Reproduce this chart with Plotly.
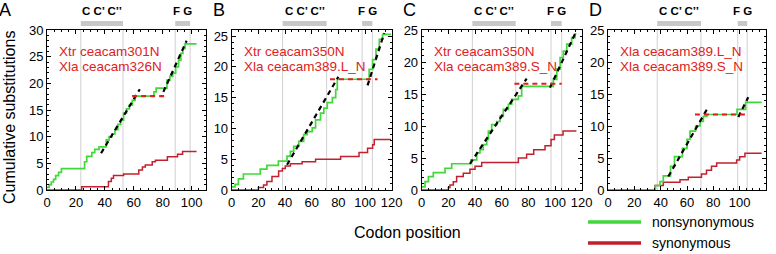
import plotly.graph_objects as go

# ---------------- data ----------------
panel_letters = ["A", "B", "C", "D"]
pair_line1 = ["Xtr ceacam301N", "Xtr ceacam350N", "Xtr ceacam350N", "Xla ceacam389.L_N"]
pair_line2 = ["Xla ceacam326N", "Xla ceacam389.L_N", "Xla ceacam389.S_N", "Xla ceacam389.S_N"]
x_max = [110, 120, 120, 120]
y_max = [30, 26, 25, 25]

# nonsynonymous (cumulative, step starts)
a_nonsyn_x = [0, 1.5, 3, 4.5, 6, 8, 10, 26, 27.5, 31, 33, 36, 41, 43, 45, 47, 49, 51, 53, 55, 57, 59, 61, 74, 75.5, 83, 85, 87, 89, 91, 92.6, 94, 95.5, 103.5]
a_nonsyn_y = [0.5, 1.0, 1.5, 2.0, 2.7, 3.3, 4.0, 5.3, 6.3, 7.0, 7.6, 8.1, 9.4, 10.0, 10.5, 11.3, 12.3, 13.1, 14.4, 15.2, 15.9, 16.8, 17.6, 18.4, 19.1, 20.6, 21.3, 21.9, 23.1, 24.3, 25.6, 26.5, 27.4, 27.4]
a_syn_x = [0, 24, 42.5, 44.5, 46, 53, 63.5, 66, 68, 72.8, 75, 83.3, 90.3, 93.8, 103.5]
a_syn_y = [0, 0.6, 1.6, 2.2, 2.7, 3.0, 3.75, 4.3, 4.7, 5.3, 5.6, 6.25, 6.7, 7.2, 7.2]

b_nonsyn_x = [0, 2.5, 5, 8.8, 21.4, 26.4, 35, 41.5, 44, 46.5, 50.3, 54, 56.6, 60.4, 62.9, 66.6, 69.1, 71.7, 75.5, 78, 79.2, 103.1, 105.7, 108.2, 110.7, 113.2, 119.5]
b_nonsyn_y = [0.5, 0.9, 1.8, 2.6, 3.4, 4.0, 4.7, 5.5, 6.3, 7.1, 7.9, 9.0, 9.5, 10.1, 11.4, 12.5, 13.3, 14.2, 15.0, 16.3, 18.0, 19.6, 21.2, 22.9, 24.5, 25.3, 25.3]
b_syn_x = [0, 20, 23.9, 26.4, 30.2, 35.2, 38, 40.2, 44, 52.8, 62.9, 81.7, 95.5, 101.9, 105.7, 106.9, 119.5]
b_syn_y = [0, 0.4, 0.8, 1.4, 2.2, 3.1, 3.5, 3.9, 4.25, 4.6, 5.0, 5.45, 6.1, 6.8, 7.35, 8.2, 8.2]

c_nonsyn_x = [0, 2.5, 5, 8.7, 17.5, 22.5, 37, 41.3, 43.7, 46.2, 48.8, 50, 52.5, 56.3, 58.7, 61.2, 65, 67.5, 72.5, 75, 98.7, 101.3, 103.8, 106.2, 108.8, 112.5, 115, 116]
c_nonsyn_y = [0.5, 1.3, 2.1, 2.7, 3.4, 4.1, 4.7, 5.8, 6.3, 7.1, 7.9, 9.2, 10.2, 10.7, 11.5, 12.6, 13.4, 14.15, 14.7, 16.2, 17.3, 18.9, 20.7, 21.7, 22.8, 23.8, 24.4, 24.4]
c_syn_x = [0, 20, 21.2, 23.7, 26.2, 31.2, 36.2, 40, 45, 72.5, 78.7, 84, 92.5, 97, 99.5, 106, 116]
c_syn_y = [0, 0.4, 0.8, 1.3, 2.1, 2.6, 3.25, 3.7, 4.3, 5.0, 5.6, 6.3, 6.9, 7.9, 8.6, 9.2, 9.2]

d_nonsyn_x = [0, 36, 39.5, 42, 47.5, 50.5, 56.5, 60, 62.3, 66.5, 69.9, 72.4, 75, 98, 104.5, 116.7]
d_nonsyn_y = [0, 0.7, 1.3, 2.2, 3.7, 5.2, 6.5, 7.9, 9.2, 10.0, 10.7, 11.5, 11.8, 12.6, 13.7, 13.7]
d_syn_x = [0, 35.7, 42, 54.7, 61, 71, 74.8, 78.6, 82.5, 97.7, 100, 104, 116.7]
d_syn_y = [0, 0.7, 1.2, 1.6, 2.0, 2.5, 3.1, 3.7, 4.2, 4.7, 5.2, 5.75, 5.75]

# fitted rate segments (x0, y0, x1, y1)
a_fit1 = [37.4, 6.9, 64.2, 18.9]
a_flat = [58.9, 17.6, 81.5, 17.6]
a_fit2 = [80.5, 18.4, 96.6, 28.0]
b_fit1 = [41.5, 4.1, 80.0, 18.4]
b_flat = [73.7, 18.0, 109.4, 18.0]
b_fit2 = [101.9, 17.0, 114.4, 25.5]
c_fit1 = [36.2, 4.1, 78.7, 17.4]
c_flat = [69.5, 16.6, 105.0, 16.6]
c_fit2 = [96.2, 16.0, 115.0, 24.4]
d_fit1 = [45.8, 2.1, 75.4, 12.7]
d_flat = [66.0, 11.8, 105.3, 11.8]
d_fit2 = [99.0, 11.4, 106.5, 14.5]

# strand boundaries (codon positions)
a_strands = [23.4, 52.6, 88.7, 99.0]
b_strands = [38.2, 71.2, 97.8, 105.5]
c_strands = [38.0, 70.5, 97.0, 105.0]
d_strands = [37.4, 70.6, 98.5, 105.7]

nonsyn_x = [a_nonsyn_x, b_nonsyn_x, c_nonsyn_x, d_nonsyn_x]
nonsyn_y = [a_nonsyn_y, b_nonsyn_y, c_nonsyn_y, d_nonsyn_y]
syn_x = [a_syn_x, b_syn_x, c_syn_x, d_syn_x]
syn_y = [a_syn_y, b_syn_y, c_syn_y, d_syn_y]
fit1 = [a_fit1, b_fit1, c_fit1, d_fit1]
flat = [a_flat, b_flat, c_flat, d_flat]
fit2 = [a_fit2, b_fit2, c_fit2, d_fit2]
strands = [a_strands, b_strands, c_strands, d_strands]

# ---------------- style ----------------
W, H = 776, 254
FONT = "Liberation Sans, Arial, Helvetica, sans-serif"
GREEN = "#41d83a"
RED = "#c2202e"
TXT_RED = "#dd2222"
x_px = [(47, 206), (231.7, 391.7), (421.7, 581.7), (608, 766)]
y_dom = [64 / H, 224 / H]

fig = go.Figure()
shapes = []
annotations = []

for i in range(4):
    sfx = "" if i == 0 else str(i + 1)
    xa, ya = "x" + sfx, "y" + sfx
    fig.add_trace(go.Scatter(x=syn_x[i], y=syn_y[i], mode="lines", line=dict(color=RED, width=1.5, shape="hv"),
                             xaxis=xa, yaxis=ya, showlegend=False))
    fig.add_trace(go.Scatter(x=nonsyn_x[i], y=nonsyn_y[i], mode="lines", line=dict(color=GREEN, width=1.7, shape="hv"),
                             xaxis=xa, yaxis=ya, showlegend=False))
    for seg, col in ((fit1[i], "black"), (fit2[i], "black"), (flat[i], "#e02020")):
        fig.add_trace(go.Scatter(x=[seg[0], seg[2]], y=[seg[1], seg[3]], mode="lines",
                                 line=dict(color=col, width=2.2, dash="5px,4px"),
                                 xaxis=xa, yaxis=ya, showlegend=False))

    dom = [x_px[i][0] / W, x_px[i][1] / W]
    fig.layout["xaxis" + sfx] = dict(
        domain=dom, range=[0, x_max[i]], anchor=ya, tick0=0, dtick=20, tickmode="linear",
        ticks="inside", ticklen=4, tickcolor="black", showline=True, linecolor="black", linewidth=1,
        mirror="allticks", showgrid=False, zeroline=False,
        minor=dict(ticks="inside", dtick=5, ticklen=2, tickcolor="black", showgrid=False),
        tickfont=dict(family=FONT, size=13, color="black"), automargin=False)
    fig.layout["yaxis" + sfx] = dict(
        domain=y_dom, range=[0, y_max[i]], anchor=xa, tick0=0, dtick=5, tickmode="linear",
        ticks="inside", ticklen=4, tickcolor="black", showline=True, linecolor="black", linewidth=1,
        mirror="allticks", showgrid=False, zeroline=False,
        minor=dict(ticks="inside", dtick=1, ticklen=2, tickcolor="black", showgrid=False),
        tickfont=dict(family=FONT, size=13, color="black"), automargin=False)

    # strand boundary lines
    for s in strands[i]:
        shapes.append(dict(type="line", xref=xa, yref=ya + " domain", x0=s, x1=s, y0=0, y1=1,
                           line=dict(color="#d0d0d0", width=1), layer="below"))
    # strand bars on top
    for (s0, s1), lab in (((strands[i][0], strands[i][1]), "C C’ C’’"), ((strands[i][2], strands[i][3]), "F G")):
        shapes.append(dict(type="rect", xref=xa, yref="paper", x0=s0, x1=s1, y0=1 - 26 / H, y1=1 - 21 / H,
                           fillcolor="#c8c8c8", line=dict(width=0)))
        annotations.append(dict(text="<b>" + lab + "</b>", xref=xa, yref="paper", x=(s0 + s1) / 2, y=1 - 11 / H,
                                showarrow=False, font=dict(family=FONT, size=11.5, color="black"),
                                xanchor="center", yanchor="middle"))
    # pair labels
    for j, t in enumerate((pair_line1[i], pair_line2[i])):
        annotations.append(dict(text=t, xref="paper", yref="paper", x=(x_px[i][0] + 10) / W,
                                y=1 - (52 + 14 * j) / H, showarrow=False, xanchor="left", yanchor="middle",
                                font=dict(family=FONT, size=13.5, color=TXT_RED)))

# panel letters
for letter, px in zip(panel_letters, [5, 219, 409, 595]):
    annotations.append(dict(text=letter, xref="paper", yref="paper", x=px / W, y=1 - 10 / H, showarrow=False,
                            xanchor="center", yanchor="middle", font=dict(family=FONT, size=18, color="black")))

# axis titles
annotations.append(dict(text="Cumulative substitutions", xref="paper", yref="paper", x=9 / W, y=1 - 118 / H,
                        textangle=-90, showarrow=False, xanchor="center", yanchor="middle",
                        font=dict(family=FONT, size=16, color="black")))
annotations.append(dict(text="Codon position", xref="paper", yref="paper", x=407 / W, y=1 - 232 / H,
                        showarrow=False, xanchor="center", yanchor="middle",
                        font=dict(family=FONT, size=16, color="black")))

# legend
for k, (lab, col) in enumerate((("nonsynonymous", GREEN), ("synonymous", RED))):
    yy = 1 - (222 + 21 * k) / H
    shapes.append(dict(type="line", xref="paper", yref="paper", x0=588 / W, x1=641 / W, y0=yy, y1=yy,
                       line=dict(color=col, width=3.5)))
    annotations.append(dict(text=lab, xref="paper", yref="paper", x=650 / W, y=yy, showarrow=False,
                            xanchor="left", yanchor="middle", font=dict(family=FONT, size=14, color="black")))

fig.update_layout(width=W, height=H, margin=dict(l=0, r=0, t=0, b=0), plot_bgcolor="white",
                  paper_bgcolor="white", shapes=shapes, annotations=annotations, showlegend=False)

fig.write_html("out.html", config={"displayModeBar": False},
               post_script="document.body.style.margin='0';document.body.style.overflow='hidden';")
